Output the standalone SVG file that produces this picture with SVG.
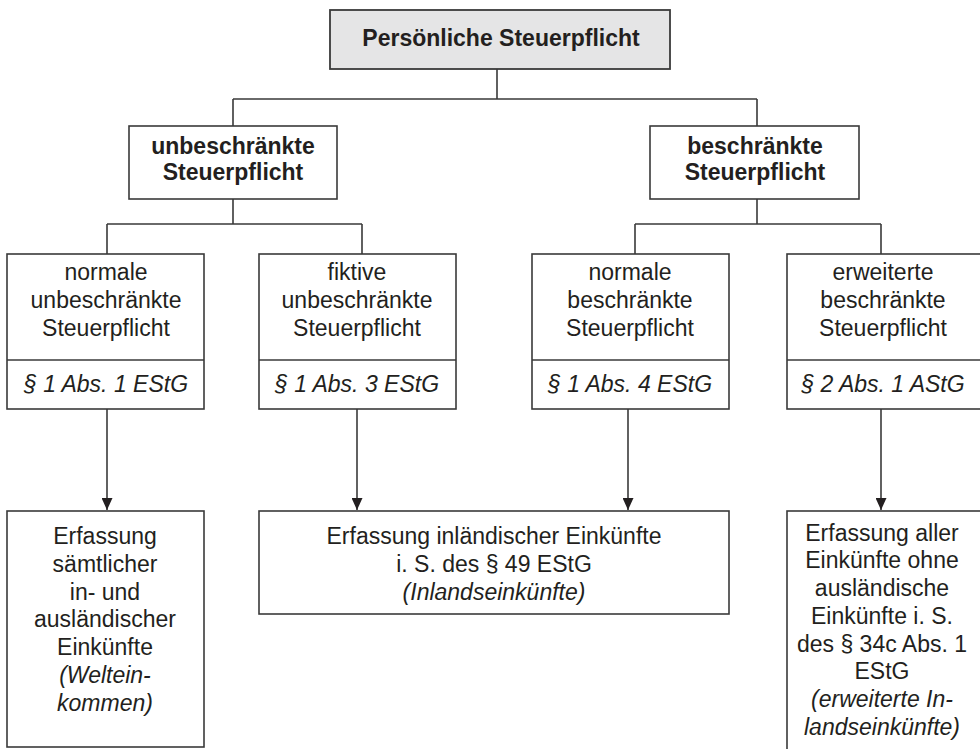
<svg xmlns="http://www.w3.org/2000/svg" width="980" height="749" viewBox="0 0 980 749">
<style>
.box{fill:#fff;stroke:#3a3a3a;stroke-width:1.6}
.top{fill:#e5e5e6;stroke:#3a3a3a;stroke-width:1.8}
.ln{fill:none;stroke:#3a3a3a;stroke-width:1.6}
text{font-family:"Liberation Sans",Arial,Helvetica,sans-serif;font-size:23px;fill:#231f20;text-anchor:middle}
.b{font-weight:bold}
.i{font-style:italic}
</style>
<defs>
<marker id="arr" viewBox="0 0 12 11" refX="12" refY="5.5" markerWidth="12" markerHeight="11" markerUnits="userSpaceOnUse" orient="auto">
<path d="M0,0 L12,5.5 L0,11 Z" fill="#231f20"/>
</marker>
</defs>
<g id="connectors">
<path class="ln" d="M497,69 V99 M233,99 H757 M233,99 V126 M757,99 V126"/>
<path class="ln" d="M233,199 V224 M107,224 H362 M107,224 V254 M362,224 V254"/>
<path class="ln" d="M757,199 V224 M635,224 H881 M635,224 V254 M881,224 V254"/>
<path class="ln" d="M107,409 V510" marker-end="url(#arr)"/>
<path class="ln" d="M357,409 V510" marker-end="url(#arr)"/>
<path class="ln" d="M628,409 V510" marker-end="url(#arr)"/>
<path class="ln" d="M881,409 V510" marker-end="url(#arr)"/>
</g>
<g id="root">
<rect class="top" x="330" y="10" width="340" height="59"/>
<text class="b" x="501" y="46">Persönliche Steuerpflicht</text>
</g>
<g id="unbeschraenkt">
<rect class="box" x="129" y="126" width="208" height="73"/>
<text class="b" x="233" y="154">unbeschränkte</text>
<text class="b" x="233" y="180">Steuerpflicht</text>
</g>
<g id="beschraenkt">
<rect class="box" x="650" y="126" width="209" height="73"/>
<text class="b" x="755" y="154">beschränkte</text>
<text class="b" x="755" y="180">Steuerpflicht</text>
</g>
<g id="normal-unbeschraenkt">
<rect class="box" x="7" y="254" width="197" height="155"/>
<line class="ln" x1="7" y1="360" x2="204" y2="360"/>
<text x="106" y="280">normale</text>
<text x="106" y="308">unbeschränkte</text>
<text x="106" y="336">Steuerpflicht</text>
<text class="i" x="106" y="392">§ 1 Abs. 1 EStG</text>
</g>
<g id="fiktiv-unbeschraenkt">
<rect class="box" x="259" y="254" width="197" height="155"/>
<line class="ln" x1="259" y1="360" x2="456" y2="360"/>
<text x="357" y="280">fiktive</text>
<text x="357" y="308">unbeschränkte</text>
<text x="357" y="336">Steuerpflicht</text>
<text class="i" x="357" y="392">§ 1 Abs. 3 EStG</text>
</g>
<g id="normal-beschraenkt">
<rect class="box" x="532" y="254" width="197" height="155"/>
<line class="ln" x1="532" y1="360" x2="729" y2="360"/>
<text x="630" y="280">normale</text>
<text x="630" y="308">beschränkte</text>
<text x="630" y="336">Steuerpflicht</text>
<text class="i" x="630" y="392">§ 1 Abs. 4 EStG</text>
</g>
<g id="erweitert-beschraenkt">
<rect class="box" x="787" y="254" width="220" height="155"/>
<line class="ln" x1="787" y1="360" x2="1007" y2="360"/>
<text x="883" y="280">erweiterte</text>
<text x="883" y="308">beschränkte</text>
<text x="883" y="336">Steuerpflicht</text>
<text class="i" x="883" y="392">§ 2 Abs. 1 AStG</text>
</g>
<g id="welteinkommen">
<rect class="box" x="7" y="511" width="197" height="236"/>
<text x="105" y="544">Erfassung</text>
<text x="105" y="572">sämtlicher</text>
<text x="105" y="600">in- und</text>
<text x="105" y="627">ausländischer</text>
<text x="105" y="655">Einkünfte</text>
<text class="i" x="105" y="683">(Weltein-</text>
<text class="i" x="105" y="711">kommen)</text>
</g>
<g id="inlandseinkuenfte">
<rect class="box" x="259" y="511" width="470" height="103"/>
<text x="494" y="544">Erfassung inländischer Einkünfte</text>
<text x="494" y="572">i. S. des § 49 EStG</text>
<text class="i" x="494" y="600">(Inlandseinkünfte)</text>
</g>
<g id="erweiterte-inlandseinkuenfte">
<rect class="box" x="787" y="511" width="220" height="260"/>
<text x="882" y="541">Erfassung aller</text>
<text x="882" y="568">Einkünfte ohne</text>
<text x="882" y="596">ausländische</text>
<text x="882" y="624">Einkünfte i. S.</text>
<text x="882" y="652">des § 34c Abs. 1</text>
<text x="882" y="679">EStG</text>
<text class="i" x="882" y="707">(erweiterte In-</text>
<text class="i" x="882" y="735">landseinkünfte)</text>
</g>
</svg>
